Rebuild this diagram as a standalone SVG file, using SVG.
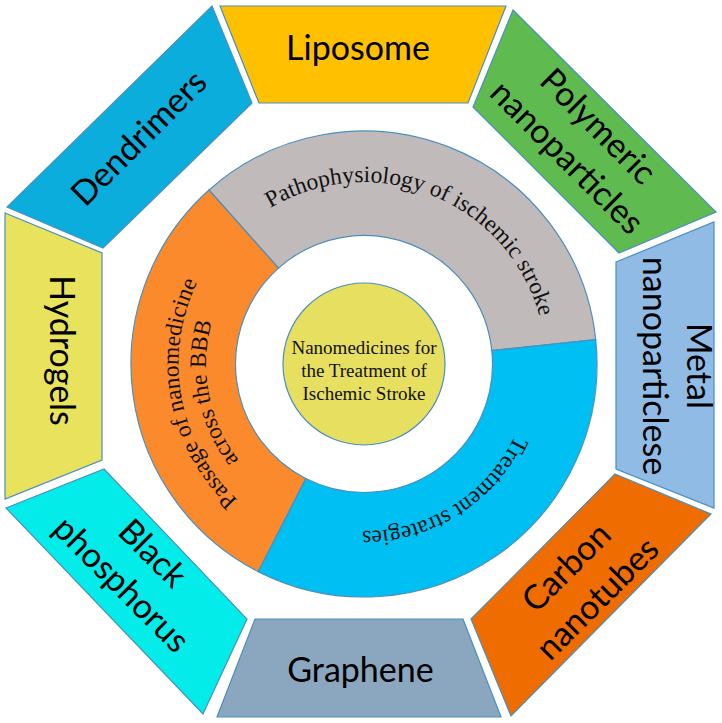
<svg xmlns="http://www.w3.org/2000/svg" xmlns:xlink="http://www.w3.org/1999/xlink" width="722" height="723" viewBox="0 0 722 723">
<style>
.seg{stroke:#4A8FC0;stroke-width:1.2}
.oct{font-family:Lato,"Open Sans","Liberation Sans",sans-serif;font-size:34px;fill:#000;text-anchor:middle}
.ring{font-family:"Liberation Serif","Times New Roman",serif;font-size:23.5px;fill:#111}
.core{font-family:"Liberation Serif","Times New Roman",serif;font-size:19px;fill:#111;text-anchor:middle}
</style>
<defs>
<path id="arcGray" d="M201.8,281.4 A182,182 0 0 1 538.0,417.2"/>
<path id="arcBlue" d="M512.8,288.2 A167,167 0 0 1 230.6,464.5"/>
<path id="arcOr1" d="M381.8,549.1 A186,186 0 0 1 314.3,184.8"/>
<path id="arcOr2" d="M380.5,521.1 A158,158 0 0 1 320.4,212.1"/>
</defs>
<rect width="722" height="723" fill="#fff"/>
<g id="connectors"/>
<g id="liposome">
<polygon class="seg" fill="#FFC000" points="220,6 506,6 468,103 259,103"/>
<text class="oct" x="358" y="60">Liposome</text>
</g>
<g id="polymeric">
<polygon class="seg" fill="#5FBB50" points="513,10 716,212 619,253 473,107"/>
<g transform="translate(581.5,143) rotate(45)"><text class="oct" x="0" y="-12">Polymeric</text><text class="oct" x="0" y="32">nanoparticles</text></g>
</g>
<g id="metal">
<polygon class="seg" fill="#8FBBE5" points="616,262 714,222 714,508 616,469"/>
<g transform="translate(675,366) rotate(90)"><text class="oct" x="0" y="-12">Metal</text><text class="oct" x="0" y="32">nanoparticlese</text></g>
</g>
<g id="carbon">
<polygon class="seg" fill="#EF6C00" points="615,474 711,514 511,716 471,619"/>
<g transform="translate(583,584) rotate(-45)"><text class="oct" x="0" y="-12">Carbon</text><text class="oct" x="0" y="32">nanotubes</text></g>
</g>
<g id="graphene">
<polygon class="seg" fill="#8AA7BF" points="255,619 463,619 501,717 217,717"/>
<text class="oct" x="360.5" y="682">Graphene</text>
</g>
<g id="black-phosphorus">
<polygon class="seg" fill="#04ECEA" points="6,508 104,469 247,619 203,714"/>
<g transform="translate(136,570) rotate(45)"><text class="oct" x="0" y="-12">Black</text><text class="oct" x="0" y="32">phosphorus</text></g>
</g>
<g id="hydrogels">
<polygon class="seg" fill="#E9E25C" points="5,213 102,253 102,460 5,499"/>
<g transform="translate(61,350.5) rotate(90)"><text class="oct" x="0" y="11.5">Hydrogels</text></g>
</g>
<g id="dendrimers">
<polygon class="seg" fill="#0BADDC" points="212,6 252,103 103,248 7,207"/>
<g transform="translate(139,138) rotate(-45)"><text class="oct" x="0" y="11.5">Dendrimers</text></g>
</g>
<g id="pathophysiology">
<path class="seg" fill="#C0BABA" d="M209.0,190.0 A233,233 0 0 1 595.7,339.6 L491.8,350.6 A128.5,128.5 0 0 0 278.5,268.1 Z"/>
<text class="ring"><textPath xlink:href="#arcGray" href="#arcGray" startOffset="50%" text-anchor="middle">Pathophysiology of ischemic stroke</textPath></text>
</g>
<g id="treatment">
<path class="seg" fill="#00BFF2" d="M595.7,339.6 A233,233 0 0 1 258.2,571.6 L305.7,478.5 A128.5,128.5 0 0 0 491.8,350.6 Z"/>
<text class="ring"><textPath xlink:href="#arcBlue" href="#arcBlue" startOffset="50%" text-anchor="middle">Treatment strategies</textPath></text>
</g>
<g id="passage">
<path class="seg" fill="#FA8A2C" d="M258.2,571.6 A233,233 0 0 1 209.0,190.0 L278.5,268.1 A128.5,128.5 0 0 0 305.7,478.5 Z"/>
<text class="ring"><textPath xlink:href="#arcOr1" href="#arcOr1" startOffset="50%" text-anchor="middle">Passage of nanomedicine</textPath><textPath xlink:href="#arcOr2" href="#arcOr2" startOffset="50%" text-anchor="middle">across the BBB</textPath></text>
</g>
<g id="center">
<circle class="seg" cx="364" cy="364" r="81" fill="#E7DF5F"/>
<text class="core" x="364" y="354">Nanomedicines for</text>
<text class="core" x="364" y="377">the Treatment of</text>
<text class="core" x="364" y="399.5">Ischemic Stroke</text>
</g>
</svg>
